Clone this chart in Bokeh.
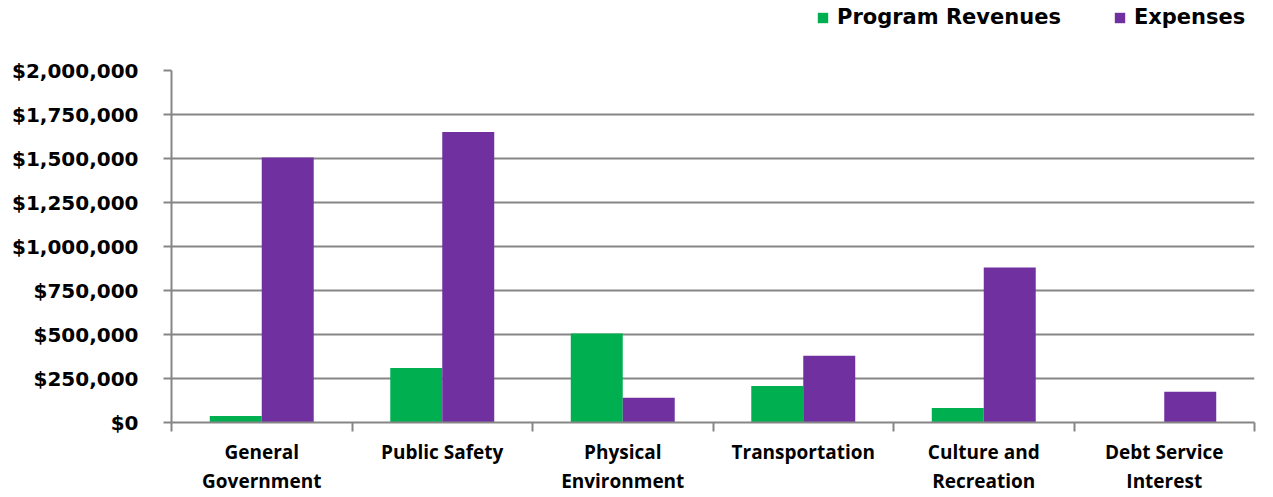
import numpy as np
from bokeh.plotting import figure
from bokeh.layouts import column
from bokeh.models import (ColumnDataSource, FixedTicker, NumeralTickFormatter,
                          Range1d, Legend, LegendItem)
from bokeh.embed import file_html
from bokeh.resources import INLINE

# Government-wide activities: program revenues vs. expenses
categories = ["General\nGovernment", "Public Safety", "Physical\nEnvironment",
              "Transportation", "Culture and\nRecreation", "Debt Service\nInterest"]
series_names = ["Program Revenues", "Expenses"]
program_revenues = [37000, 310000, 505000, 208000, 83000, 0]
expenses = [1505000, 1650000, 140000, 379000, 880000, 175000]
y_ticks = [0, 250000, 500000, 750000, 1000000, 1250000, 1500000, 1750000, 2000000]

GREEN = "#00B050"
PURPLE = "#7030A0"
GRID = "#868686"
W = 1273
LEGEND_H = 40

n = len(categories)
bar_w = 0.288
centers = np.arange(n) + 0.5

src = ColumnDataSource(dict(
    x_rev=centers - bar_w / 2,
    x_exp=centers + bar_w / 2,
    rev=program_revenues,
    exp=expenses,
))

p = figure(width=W, height=497 - LEGEND_H, output_backend="svg", toolbar_location=None,
           x_range=Range1d(0, n), y_range=Range1d(0, 2000000),
           min_border_left=171, min_border_right=19, min_border_top=70 - LEGEND_H,
           min_border_bottom=75)
p.outline_line_color = None
p.background_fill_color = "white"
p.border_fill_color = "white"

p.vbar(x="x_rev", top="rev", width=bar_w, source=src,
       fill_color=GREEN, line_color=None)
p.vbar(x="x_exp", top="exp", width=bar_w, source=src,
       fill_color=PURPLE, line_color=None)

# y axis
p.yaxis.ticker = FixedTicker(ticks=y_ticks)
p.yaxis.formatter = NumeralTickFormatter(format="$0,0")
p.yaxis.axis_line_color = GRID
p.yaxis.axis_line_width = 2
p.yaxis.major_tick_line_color = GRID
p.yaxis.major_tick_line_width = 2
p.yaxis.major_tick_out = 8
p.yaxis.major_tick_in = 0
p.yaxis.minor_tick_line_color = None
p.yaxis.major_label_standoff = 25
p.yaxis.major_label_text_font = "DejaVu Sans"
p.yaxis.major_label_text_font_style = "bold"
p.yaxis.major_label_text_font_size = "20px"
p.yaxis.major_label_text_color = "black"

# x axis: labels at category centres, tick marks at category boundaries
p.xaxis.ticker = FixedTicker(ticks=list(centers), minor_ticks=list(range(n + 1)))
p.xaxis.major_label_overrides = {float(c): lab for c, lab in zip(centers, categories)}
p.xaxis.axis_line_color = GRID
p.xaxis.axis_line_width = 2
p.xaxis.major_tick_line_color = None
p.xaxis.major_tick_out = 0
p.xaxis.major_tick_in = 0
p.xaxis.minor_tick_line_color = GRID
p.xaxis.minor_tick_line_width = 2
p.xaxis.minor_tick_out = 9
p.xaxis.minor_tick_in = 0
p.xaxis.major_label_standoff = 7
p.xaxis.major_label_text_font = "Open Sans"
p.xaxis.major_label_text_font_style = "bold"
p.xaxis.major_label_text_font_size = "19px"
p.xaxis.major_label_text_color = "black"
p.xaxis.major_label_text_line_height = 1.15

p.xgrid.grid_line_color = None
p.ygrid.ticker = FixedTicker(ticks=y_ticks)
p.ygrid.grid_line_color = GRID
p.ygrid.grid_line_width = 2

# legend strip above the chart (swatch renderers are zero-size, only used for the key)
top = figure(width=W, height=LEGEND_H, output_backend="svg", toolbar_location=None,
             x_range=Range1d(0, 1), y_range=Range1d(0, 1), min_border=0)
top.axis.visible = False
top.grid.visible = False
top.outline_line_color = None
top.border_fill_color = "white"
swatch_rev = top.vbar(x=[0], top=[0], width=0, fill_color=GREEN, line_color=None)
swatch_exp = top.vbar(x=[0], top=[0], width=0, fill_color=PURPLE, line_color=None)
legend = Legend(items=[LegendItem(label=series_names[0], renderers=[swatch_rev]),
                       LegendItem(label=series_names[1], renderers=[swatch_exp])],
                location=(645, 11), orientation="horizontal",
                border_line_color=None, background_fill_alpha=0,
                padding=0, margin=0, spacing=52, label_standoff=8,
                glyph_width=13, glyph_height=13,
                label_text_font="DejaVu Sans", label_text_font_style="bold",
                label_text_font_size="21px", label_text_color="black")
top.add_layout(legend)

open("out.html", "w").write(file_html(column(top, p, spacing=0), INLINE))
